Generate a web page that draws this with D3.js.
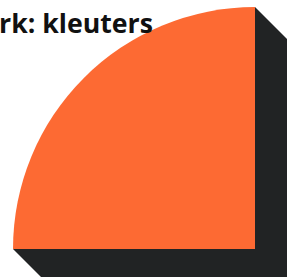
<!DOCTYPE html>
<html>
<head>
<meta charset="utf-8">
<script src="https://cdn.jsdelivr.net/npm/d3@7"></script>
<style>
  body { margin: 0; background: #fff; }
  svg { display: block; }
</style>
</head>
<body>
<svg id="chart" width="287" height="277"></svg>
<script>
// share of kleuters, in percent
const labels = ["kleuters"];
const values = [25];
const title = "Netwerk: kleuters";

const width = 287, height = 277;
const cx = 255, cy = 249;   // centre of the pie
const radius = 242;
const depth = 60;           // length of the 45deg extrusion

const svg = d3.select("#chart");

const angle = d3.scaleLinear().domain([0, 100]).range([0, 2 * Math.PI]);

const arc = d3.arc()
  .innerRadius(0)
  .outerRadius(radius)
  .startAngle(d => -angle(d))
  .endAngle(0);

const g = svg.append("g").attr("transform", `translate(${cx},${cy})`);

// extrusion (shadow) of the slice along the 45deg direction
values.forEach(v => {
  const a0 = -angle(v);
  const p0 = [radius * Math.sin(a0), -radius * Math.cos(a0)];
  const p1 = [0, -radius];
  const pts = [p1, [p1[0] + depth, p1[1] + depth], [depth, depth],
               [p0[0] + depth, p0[1] + depth], p0, [0, 0]];
  g.append("path")
    .attr("d", d3.line()(pts) + "Z")
    .attr("fill", "#212324");
});

g.selectAll(".slice")
  .data(values)
  .join("path")
    .attr("class", "slice")
    .attr("d", d => arc(d))
    .attr("fill", "#fd6a33");

svg.append("text")
  .attr("x", 153)
  .attr("y", 33)
  .attr("text-anchor", "end")
  .attr("font-family", "'Open Sans', sans-serif")
  .attr("font-weight", "bold")
  .attr("font-size", 26.7)
  .attr("fill", "#111")
  .text(title);
</script>
</body>
</html>
